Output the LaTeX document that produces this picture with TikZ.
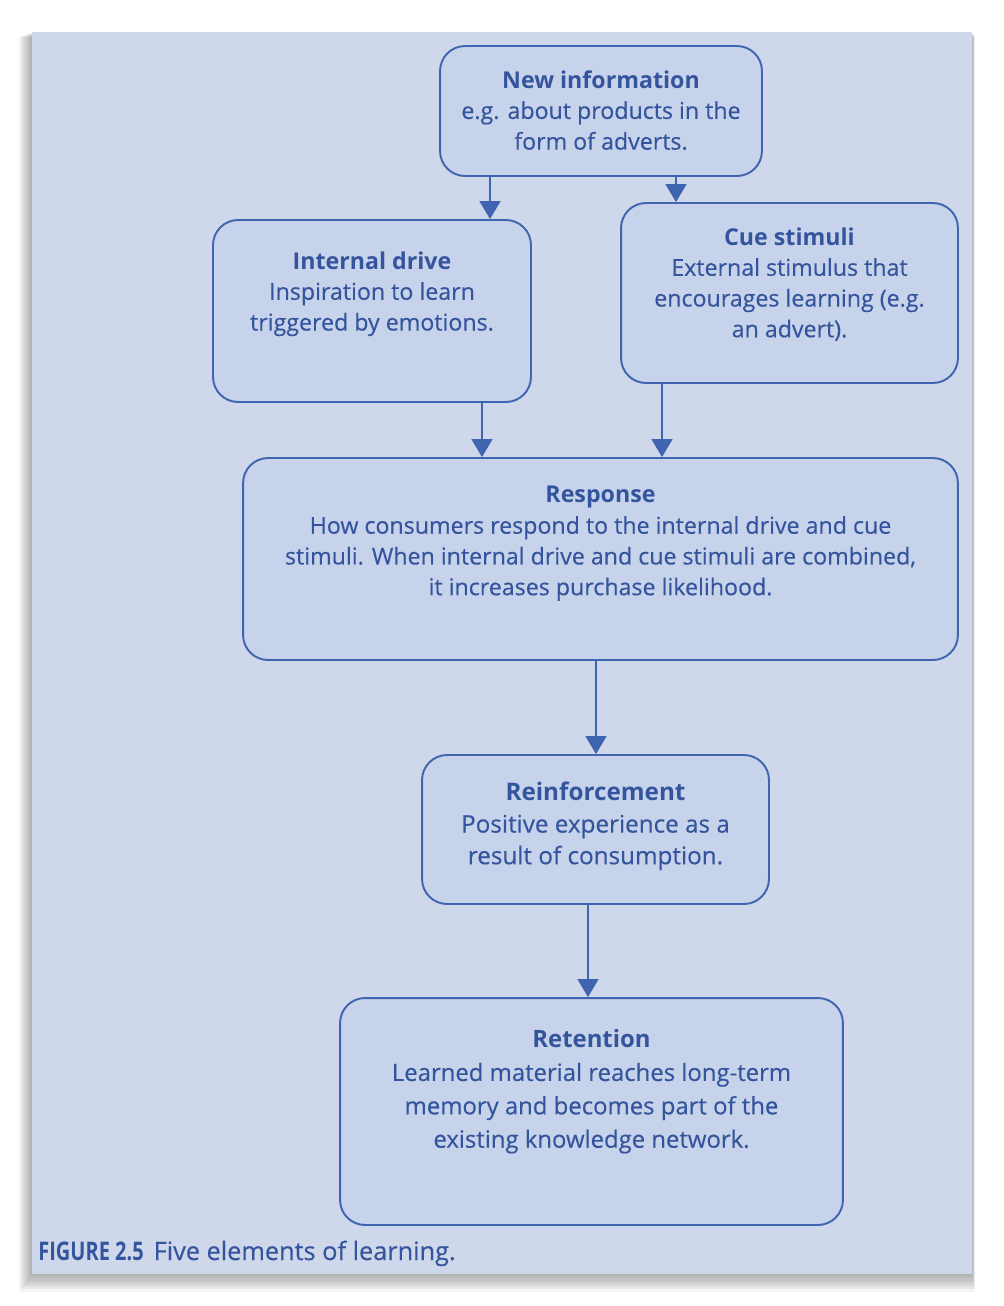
\documentclass[tikz,border=0pt]{standalone}
\usepackage{fontspec}
\setmainfont{Open Sans}[UprightFeatures={FakeBold=0.35}]
\usetikzlibrary{arrows.meta}

\definecolor{pagebg}{HTML}{CFD8EB}
\definecolor{boxfill}{HTML}{C7D3EA}
\definecolor{boxline}{HTML}{3F65B0}
\definecolor{inkblue}{HTML}{34559E}

\tikzset{
  stagebox/.style={draw=boxline, fill=boxfill, line width=1.1pt, rounded corners=0.5cm, inner sep=0},
  stagetext/.style={inkblue, anchor=north, align=center, inner sep=0, font=\fontsize{13.2}{17.5}\selectfont},
  flow/.style={boxline, line width=0.9pt, -{Triangle[width=0.42cm, length=0.36cm]}}
}

\begin{document}
\begin{tikzpicture}[x=0.02cm, y=-0.02cm]
\useasboundingbox (0,0) rectangle (1004,1306);

% page with its shadow
\foreach \s in {1,...,8}
  \fill[black, opacity=0.045] ({32-\s*1.6},{32+\s*0.6}) rectangle ({972+\s*0.4},{1274+\s*2.2});
\fill[pagebg] (32,32) rectangle (972,1274);

% boxes
\node[stagebox, minimum width=6.44cm, minimum height=2.6cm] (newinfo) at (601,111) {};
\node[stagebox, minimum width=6.36cm, minimum height=3.64cm] (drive) at (372,311) {};
\node[stagebox, minimum width=6.74cm, minimum height=3.6cm] (cue) at (789.5,293) {};
\node[stagebox, minimum width=14.3cm, minimum height=4.04cm] (response) at (600.5,559) {};
\node[stagebox, minimum width=6.94cm, minimum height=2.98cm] (reinf) at (595.5,829.5) {};
\node[stagebox, minimum width=10.06cm, minimum height=4.54cm] (retention) at (591.5,1111.5) {};

% texts
\node[stagetext, yshift=-0.5cm] (newinfotxt) at (newinfo.north) {\textbf{New information}\\e.g. about products in the\\form of adverts.};
\node[stagetext, yshift=-0.64cm] (drivetxt) at (drive.north) {\textbf{Internal drive}\\Inspiration to learn\\triggered by emotions.};
\node[stagetext, yshift=-0.5cm] (cuetxt) at (cue.north) {\textbf{Cue stimuli}\\External stimulus that\\encourages learning (e.g.\\an advert).};
\node[stagetext, yshift=-0.58cm] (responsetxt) at (response.north) {\textbf{Response}\\How consumers respond to the internal drive and cue\\stimuli. When internal drive and cue stimuli are combined,\\it increases purchase likelihood.};
\node[stagetext, yshift=-0.56cm, font=\fontsize{13.8}{18}\selectfont] (reinftxt) at (reinf.north) {\textbf{Reinforcement}\\Positive experience as a\\result of consumption.};
\node[stagetext, yshift=-0.64cm, font=\fontsize{13.6}{19}\selectfont] (retentiontxt) at (retention.north) {\textbf{Retention}\\Learned material reaches long-term\\memory and becomes part of the\\existing knowledge network.};

% arrows
\draw[flow] (newinfo.south -| 490,0) -- (drive.north -| 490,0);
\draw[flow] (newinfo.south -| 676,0) -- (cue.north -| 676,0);
\draw[flow] (drive.south -| 482,0) -- (response.north -| 482,0);
\draw[flow] (cue.south -| 662,0) -- (response.north -| 662,0);
\draw[flow] (response.south -| 596,0) -- (reinf.north -| 596,0);
\draw[flow] (reinf.south -| 588,0) -- (retention.north -| 588,0);

% caption
\node[inkblue, anchor=base west, inner sep=0] (caption) at (38,1260) {\fontsize{14.6}{18}\selectfont\scalebox{0.78}[1]{\textbf{FIGURE 2.5}}\hspace{0.2cm}\fontsize{14.4}{18}\selectfont Five elements of learning.};
\end{tikzpicture}
\end{document}
